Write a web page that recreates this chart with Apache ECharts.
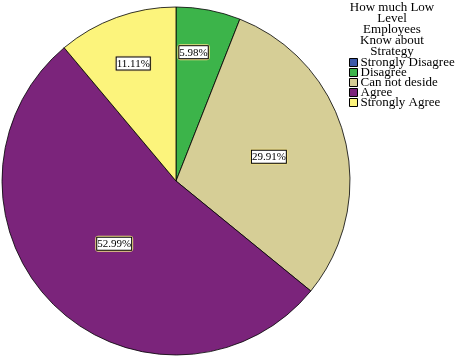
<!DOCTYPE html>
<html><head><meta charset="utf-8">
<script src="https://cdn.jsdelivr.net/npm/echarts@6/dist/echarts.min.js"></script>
<style>html,body{margin:0;padding:0;background:#fff}#c{width:457px;height:359px}</style>
</head><body><div id="c"></div>
<script>
const categories = ['Strongly Disagree', 'Disagree', 'Can not deside', 'Agree', 'Strongly Agree'];
const values = [0, 5.98, 29.91, 52.99, 11.11];
const colors = ['#3c5aa8', '#3cb44a', '#d6ce96', '#7b247b', '#fcf47c'];
const legendTitle = 'How much Low\nLevel\nEmployees\nKnow about\nStrategy';

const CX = 176, CY = 181, R = 174;
const labelR = [0, 130, 96, 88, 125];
const labelAngleShift = [0, 3, 0, 0, 0];
const total = values.reduce((a, b) => a + b, 0);
const midAngles = [];
let acc = 0;
values.forEach((v, i) => { midAngles.push((90 - (acc + v / 2) / total * 360 + labelAngleShift[i]) * Math.PI / 180); acc += v; });

const chart = echarts.init(document.getElementById('c'), null, {renderer: 'canvas'});
chart.setOption({
  animation: false,
  title: {
    text: legendTitle, left: 392, top: 2, padding: 0, textAlign: 'center',
    textStyle: {fontFamily: 'Liberation Serif', fontSize: 13, fontWeight: 'normal', color: '#000', lineHeight: 11}
  },
  legend: {
    orient: 'vertical', left: 349, top: 56, padding: 0, itemGap: -3, itemWidth: 8, itemHeight: 8,
    icon: 'rect',
    itemStyle: {borderColor: '#000', borderWidth: 1},
    textStyle: {fontFamily: 'Liberation Serif', fontSize: 13, color: '#000', padding: [0, 0, 0, -2]},
    data: categories
  },
  series: [{
    type: 'pie', center: [CX, CY], radius: R, startAngle: 90, clockwise: true,
    avoidLabelOverlap: false,
    itemStyle: {borderColor: '#000', borderWidth: 0.8},
    label: {
      show: true, position: 'inside',
      formatter: p => '{a|' + p.value.toFixed(2) + '%}',
      borderColor: '#f0df86', borderWidth: 2, borderRadius: 2, padding: 1,
      rich: {a: {fontFamily: 'Liberation Serif', fontSize: 11, color: '#000', backgroundColor: '#fff', borderColor: '#000', borderWidth: 1, padding: [1, 0, 0, 0]}}
    },
    labelLayout: function (p) {
      const i = p.dataIndex;
      return {x: CX + labelR[i] * Math.cos(midAngles[i]), y: CY - labelR[i] * Math.sin(midAngles[i])};
    },
    data: categories.map((c, i) => ({
      name: c, value: values[i], itemStyle: {color: colors[i]},
      label: values[i] === 0 ? {show: false} : undefined
    }))
  }]
});
</script></body></html>
